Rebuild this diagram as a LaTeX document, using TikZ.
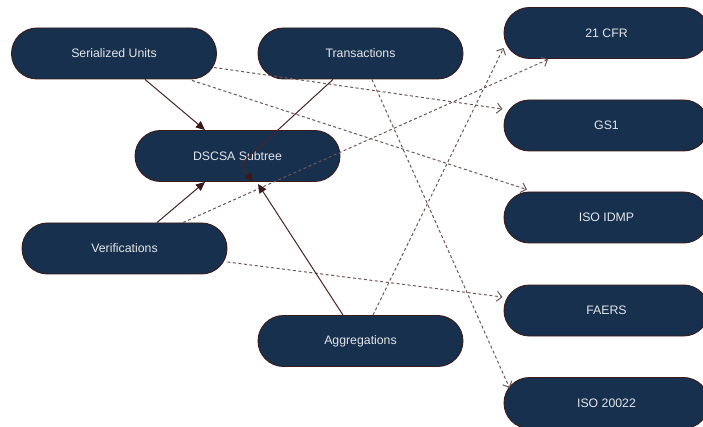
\documentclass[tikz,border=0pt]{standalone}
\usepackage{fontspec}
\setmainfont{Liberation Sans}
\usetikzlibrary{arrows.meta,calc}
\definecolor{navy}{HTML}{17304E}
\definecolor{rim}{HTML}{3B1A1A}
\definecolor{solidedge}{HTML}{4A2424}
\definecolor{dashedge}{HTML}{6E5656}
\definecolor{label}{HTML}{E4E6EA}
\tikzset{
  pill/.style={draw=rim, line width=0.9pt, fill=navy, rounded corners=25.5pt,
    minimum width=205pt, minimum height=51pt, inner sep=0pt,
    text=label, font=\fontsize{12.3}{14}\selectfont},
  link/.style={draw=solidedge, line width=1pt,
    -{Triangle[length=9pt,width=8pt,fill=rim,color=rim]}},
  ref/.style={draw=dashedge, line width=1pt, dash pattern=on 3pt off 2.5pt,
    -{Straight Barb[length=5pt,width=10pt,line width=1pt]}}
}
\begin{document}
\begin{tikzpicture}[x=1pt,y=-1pt]
  \useasboundingbox (0,0) rectangle (703,427);

  % data sources
  \node[pill] (su) at (114,53.5) {Serialized Units};
  \node[pill] (tr) at (360.5,53.5) {Transactions};
  \node[pill] (ds) at (237.5,156) {DSCSA Subtree};
  \node[pill] (ve) at (124.5,248.5) {Verifications};
  \node[pill] (ag) at (360.5,341) {Aggregations};

  % standards
  \node[pill] (cfr) at (606.5,33) {21 CFR};
  \node[pill] (gs) at (606.5,125.5) {GS1};
  \node[pill] (idmp) at (606.5,217.5) {ISO IDMP};
  \node[pill] (faers) at (606.5,310.5) {FAERS};
  \node[pill] (iso) at (606.5,403) {ISO 20022};

  % references to standards
  \draw[ref] ($(su.east)+(-3,14)$) -- ($(gs.west)+(-1,-16.5)$);
  \draw[ref] ($(su.south)+(78,1)$) -- ($(idmp.north)+(-79.5,-2)$);
  \draw[ref] ($(tr.south)+(11.5,0)$) -- ($(iso.west)+(6,-15)$);
  \draw[ref] ($(ve.north)+(58.5,0)$) -- ($(cfr.south)+(-58.5,0.5)$);
  \draw[ref] ($(ve.east)+(0,13.5)$) -- ($(faers.west)+(-1,-13.5)$);
  \draw[ref] ($(ag.north)+(12.5,0)$) -- ($(cfr.west)+(0,15)$);

  % feeds into the subtree
  \draw[link] ($(su.south)+(31,0)$) -- ($(ds.north)+(-32.5,0)$);
  \draw[link] ($(tr.south)+(-27.5,0)$) -- ($(ds.center)+(5.5,6)$)
    .. controls ($(ds.center)+(3,10)$) and ($(ds.center)+(8,16)$) .. ($(ds.south)+(15.5,0)$);
  \draw[link] ($(ve.north)+(32.5,0)$) -- ($(ds.south)+(-32.5,0)$);
  \draw[link] ($(ag.north)+(-17.5,0)$) -- ($(ds.south)+(20.5,2)$);
\end{tikzpicture}
\end{document}
